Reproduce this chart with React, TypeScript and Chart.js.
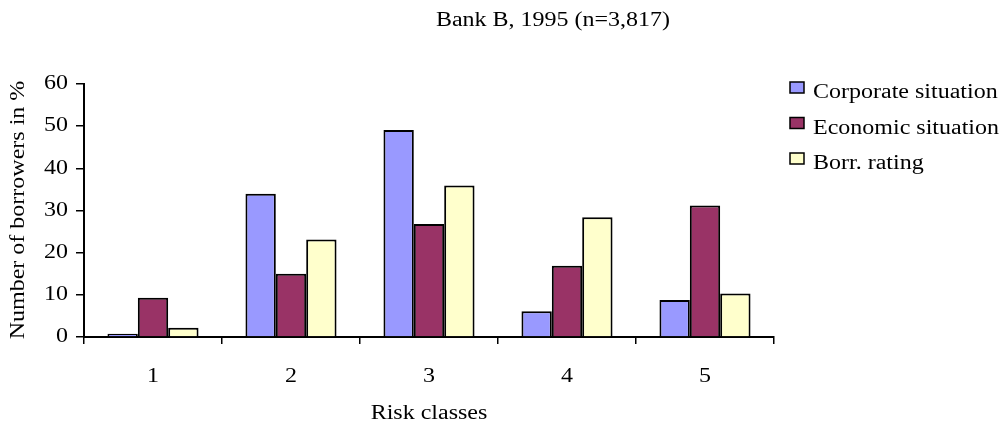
import React, { useEffect, useRef } from "react";
import { Chart, registerables } from "chart.js";

Chart.register(...registerables);

const categories = ["1", "2", "3", "4", "5"];
const corporate = [0.8, 34.0, 49.1, 6.1, 8.8];
const economic = [9.3, 15.0, 26.8, 16.9, 31.2];
const borrRating = [2.2, 23.1, 35.9, 28.4, 10.3];
const yTicks = [0, 10, 20, 30, 40, 50, 60];
const seriesNames = ["Corporate situation", "Economic situation", "Borr. rating"];
const seriesColors = ["#9999FF", "#993366", "#FFFFCC"];
const titleText = "Bank B, 1995 (n=3,817)";
const xTitle = "Risk classes";
const yTitle = "Number of borrowers in %";

const FONT = "'Liberation Serif', 'Times New Roman', serif";
const SX = 1.2;

function stretchText(ctx: CanvasRenderingContext2D, text: string, x: number, y: number, align: CanvasTextAlign, rot = 0) {
  ctx.save();
  ctx.translate(x, y);
  if (rot) ctx.rotate(rot);
  ctx.scale(SX, 1);
  ctx.textAlign = align;
  ctx.textBaseline = "middle";
  ctx.fillText(text, 0, 0);
  ctx.restore();
}

const overlay = {
  id: "overlay",
  afterDraw(chart: any) {
    const ctx = chart.ctx;
    ctx.save();
    ctx.fillStyle = "#000";
    ctx.font = `20px ${FONT}`;
    stretchText(ctx, titleText, 553, 21, "center");
    const xs = chart.scales.x;
    const ys = chart.scales.y;
    // y tick labels
    yTicks.forEach((v) => {
      stretchText(ctx, String(v), 68, ys.getPixelForValue(v), "right");
    });
    // x tick labels
    categories.forEach((c, i) => {
      stretchText(ctx, c, xs.getPixelForValue(i), 377, "center");
    });
    // axis titles
    stretchText(ctx, xTitle, (chart.chartArea.left + chart.chartArea.right) / 2, 414, "center");
    stretchText(ctx, yTitle, 19, 210, "center", -Math.PI / 2);
    // legend
    const ds = chart.data.datasets;
    ds.forEach((d: any, i: number) => {
      const yc = 93 + i * 35.5;
      ctx.fillStyle = d.backgroundColor;
      ctx.fillRect(790, yc - 11, 14, 11);
      ctx.lineWidth = 1.5;
      ctx.strokeStyle = "#000";
      ctx.strokeRect(790, yc - 11, 14, 11);
      ctx.fillStyle = "#000";
      stretchText(ctx, d.label, 813, yc, "left");
    });
    ctx.restore();
  },
};

export default function App() {
  const ref = useRef<HTMLCanvasElement>(null);
  useEffect(() => {
    document.body.style.margin = "0";
    const data = [corporate, economic, borrRating];
    const chart = new Chart(ref.current!, {
      type: "bar",
      data: {
        labels: categories,
        datasets: data.map((v, i) => ({
          label: seriesNames[i],
          data: v,
          backgroundColor: seriesColors[i],
          borderColor: "#000",
          borderWidth: 2,
          borderSkipped: "bottom",
          categoryPercentage: 0.66,
          barPercentage: 1.0,
        })),
      },
      options: {
        animation: false,
        responsive: false,
        maintainAspectRatio: false,
        layout: { padding: { top: 84, right: 230, bottom: 0, left: 0 } },
        plugins: { legend: { display: false }, title: { display: false }, tooltip: { enabled: false } },
        scales: {
          x: {
            grid: { display: true, offset: true, drawOnChartArea: false, drawTicks: true, tickLength: 7, color: "#000", lineWidth: 1.5 },
            border: { display: true, color: "#000", width: 2 },
            ticks: { display: false },
            title: { display: false, text: xTitle },
            afterFit: (s: any) => { s.height = 91; },
          },
          y: {
            min: 0,
            max: 60,
            afterBuildTicks: (s: any) => { s.ticks = yTicks.map((v) => ({ value: v })); },
            grid: { display: true, drawOnChartArea: false, drawTicks: true, tickLength: 8, color: "#000", lineWidth: 1.5 },
            border: { display: true, color: "#000", width: 2 },
            ticks: { display: false },
            title: { display: false, text: yTitle },
            afterFit: (s: any) => { s.width = 84; },
          },
        },
      },
      plugins: [overlay],
    });
    return () => chart.destroy();
  }, []);
  return <canvas ref={ref} width={1004} height={428} style={{ display: "block" }} />;
}
